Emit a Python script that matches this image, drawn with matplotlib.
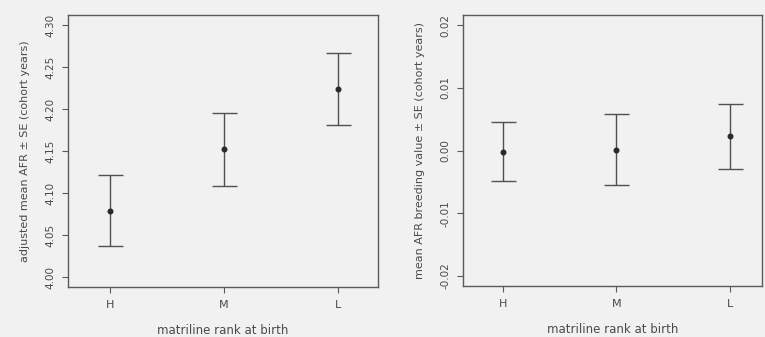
import matplotlib
matplotlib.use("Agg")
import matplotlib.pyplot as plt

# data
ranks = ["H", "M", "L"]
afr_mean = [4.079, 4.152, 4.224]
afr_se = [0.042, 0.043, 0.043]
bv_mean = [-0.0002, 0.0001, 0.0023]
bv_upper = [0.0046, 0.0058, 0.0075]
bv_lower = [-0.0049, -0.0054, -0.0029]

afr_ticks = [4.00, 4.05, 4.10, 4.15, 4.20, 4.25, 4.30]
bv_ticks = [-0.02, -0.01, 0.00, 0.01, 0.02]

bg = "#f1f1f1"
ink = "#4a4a4a"

plt.rcParams["font.family"] = "DejaVu Sans"

fig = plt.figure(figsize=(7.65, 3.37), dpi=100, facecolor=bg)
ax1 = fig.add_axes([0.089, 0.148, 0.405, 0.807])
ax2 = fig.add_axes([0.605, 0.151, 0.391, 0.804])

x = [1, 2, 3]


def style(ax, ticks, fmt, ylabel, xlim, ylim):
    ax.set_facecolor(bg)
    for s in ax.spines.values():
        s.set_color("#5a5a5a")
        s.set_linewidth(1.0)
    ax.set_xlim(*xlim)
    ax.set_ylim(*ylim)
    ax.set_xticks(x)
    ax.set_xticklabels(ranks, fontsize=8, color=ink)
    ax.set_yticks(ticks)
    ax.set_yticklabels([fmt(t) for t in ticks], fontsize=7.5, color=ink,
                       rotation=90, va="center")
    ax.tick_params(direction="out", length=4, width=0.8, color="#5a5a5a", pad=5)
    ax.set_xlabel("matriline rank at birth", fontsize=8.5, color=ink, labelpad=10)
    ax.set_ylabel(ylabel, fontsize=8, color=ink, labelpad=11)


ax1.errorbar(x, afr_mean, yerr=afr_se, fmt="o", ms=3.3, color="#2a2a2a",
             ecolor="#505050", elinewidth=1.0, capsize=9, capthick=1.0)
style(ax1, afr_ticks, lambda t: f"{t:.2f}",
      "adjusted mean AFR \u00b1 SE (cohort years)", (0.63, 3.35), (3.988, 4.312))

bv_err = [[m - lo for m, lo in zip(bv_mean, bv_lower)],
          [hi - m for m, hi in zip(bv_mean, bv_upper)]]
ax2.errorbar(x, bv_mean, yerr=bv_err, fmt="o", ms=3.3, color="#2a2a2a",
             ecolor="#505050", elinewidth=1.0, capsize=9, capthick=1.0)
style(ax2, bv_ticks, lambda t: f"{t:.2f}",
      "mean AFR breeding value \u00b1 SE (cohort years)", (0.65, 3.28), (-0.0216, 0.0216))

fig.savefig("out.png", dpi=100, facecolor=bg)
